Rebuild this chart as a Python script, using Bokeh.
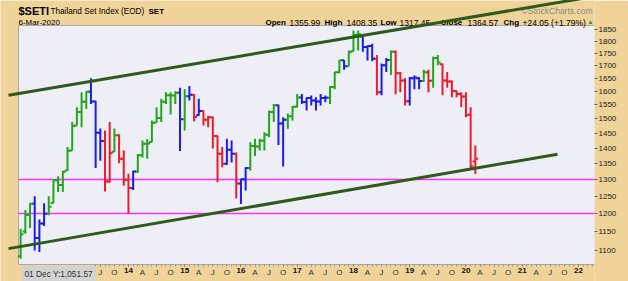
import math
import pandas as pd
from bokeh.plotting import figure
from bokeh.models import (Range1d, FixedTicker, NumeralTickFormatter, Label,
                          ColumnDataSource, LinearAxis)
from bokeh.embed import file_html
from bokeh.resources import INLINE

# ---------------- data (monthly OHLC, Thailand SET index) ----------------
months = [str(p) for p in pd.period_range("2012-02", "2020-03", freq="M")]

opens = [1085, 1150, 1196, 1228, 1133, 1172, 1199, 1230, 1298, 1283, 1328,
         1392, 1476, 1524, 1561, 1598, 1562, 1451, 1423, 1294, 1388, 1443, 1365,
         1299, 1274, 1325, 1376, 1414, 1420, 1487, 1502, 1561, 1585, 1584, 1594,
         1498, 1581, 1587, 1512, 1527, 1496, 1505, 1440, 1381, 1349, 1394, 1381,
         1288, 1301, 1336, 1407, 1405, 1424, 1444, 1524, 1548, 1483, 1496, 1509,
         1543, 1577, 1560, 1575, 1566, 1562, 1575, 1576, 1616, 1673, 1721, 1697,
         1758, 1827, 1820, 1776, 1780, 1727, 1596, 1701, 1722, 1756, 1669, 1641,
         1563, 1650, 1650, 1639, 1673, 1640, 1730, 1705, 1641, 1637, 1601, 1590,
         1580, 1514, 1356]
highs = [1158, 1210, 1230, 1250, 1183, 1229, 1250, 1300, 1310, 1327, 1403,
         1488, 1541, 1596, 1600, 1650, 1565, 1466, 1459, 1488, 1466, 1445, 1392,
         1318, 1327, 1380, 1425, 1430, 1494, 1541, 1572, 1596, 1596, 1600, 1613,
         1608, 1620, 1590, 1572, 1529, 1510, 1508, 1442, 1403, 1431, 1425, 1385,
         1302, 1338, 1419, 1431, 1431, 1453, 1529, 1553, 1550, 1505, 1518, 1545,
         1590, 1590, 1578, 1584, 1578, 1590, 1584, 1620, 1674, 1722, 1722, 1761,
         1846, 1846, 1825, 1782, 1789, 1742, 1708, 1730, 1761, 1761, 1674, 1650,
         1655, 1660, 1655, 1683, 1683, 1735, 1742, 1708, 1674, 1641, 1603, 1596,
         1596, 1541, 1408]
lows = [1079, 1144, 1160, 1100, 1096, 1165, 1195, 1229, 1262, 1262, 1327,
        1392, 1476, 1470, 1535, 1553, 1336, 1359, 1264, 1290, 1387, 1351, 1281,
        1200, 1268, 1320, 1369, 1365, 1419, 1486, 1488, 1553, 1515, 1553, 1390,
        1459, 1566, 1491, 1510, 1476, 1470, 1398, 1292, 1338, 1346, 1353, 1243,
        1227, 1267, 1327, 1374, 1392, 1392, 1436, 1488, 1410, 1340, 1465, 1494,
        1541, 1553, 1529, 1547, 1529, 1547, 1559, 1553, 1608, 1669, 1683, 1697,
        1756, 1761, 1756, 1720, 1717, 1585, 1585, 1674, 1662, 1589, 1596, 1547,
        1547, 1608, 1608, 1636, 1596, 1613, 1701, 1585, 1613, 1578, 1578, 1541,
        1505, 1336, 1317]
closes = [1143, 1196, 1228, 1133, 1172, 1199, 1219, 1298, 1283, 1324, 1391,
          1474, 1524, 1561, 1598, 1562, 1451, 1423, 1294, 1383, 1443, 1365, 1299,
          1274, 1325, 1376, 1414, 1415, 1485, 1502, 1561, 1585, 1584, 1594, 1498,
          1581, 1587, 1506, 1527, 1496, 1505, 1440, 1381, 1349, 1394, 1381, 1288,
          1301, 1336, 1407, 1405, 1424, 1444, 1524, 1548, 1483, 1496, 1509, 1543,
          1577, 1560, 1575, 1566, 1562, 1575, 1576, 1616, 1673, 1721, 1697, 1754,
          1827, 1830, 1776, 1780, 1727, 1596, 1701, 1722, 1756, 1669, 1641, 1563,
          1650, 1653, 1639, 1673, 1640, 1730, 1712, 1641, 1637, 1601, 1590, 1580,
          1514, 1341, 1365]
# impulse colouring: g = green, b = blue, r = red
impulse = list("gggbbbggggg" "ggggbbbrrgrr" "rbgggggggggb" "gbrbrrrrrbbr"
               "bbggggggbbgg" "gbbbbbbgggbg" "ggbbbrbbgrrr" "bbbgrggrrrrr" "rrr")

upper_trend_m = [-1.59, 123.42]
upper_trend_v = [1585.4, 2000.1]
lower_trend_m = [-1.59, 115.53]
lower_trend_v = [1104.9, 1379.9]
support_levels = [1300, 1200]

y_ticks = [1100, 1150, 1200, 1250, 1300, 1350, 1400, 1450, 1500, 1550,
           1600, 1650, 1700, 1750, 1800, 1850]
month_letters = {3: "A", 6: "J", 9: "O"}

# ---------------- geometry ----------------
W, H = 628, 281
FW = 594                     # frame width (right axis outside)
PLOT_BOTTOM = 264            # px of the bottom of the price pane
PXM = 4.6875                 # px per month
X0 = 15.45                   # px of Jan 2012
PXLN = 425.0                 # px per ln unit
Y1100 = 250.0                # px of 1100


def m_at(px):
    return (px - X0) / PXM


def v_at(py):
    return 1100 * math.exp((Y1100 - py) / PXLN)


TAN = "#EFD399"
LAV = "#EEEEF6"
GREEN_BAR = "#22A61E"
BLUE_BAR = "#1C1CEE"
RED_BAR = "#EE1C2A"
cmap = {"g": GREEN_BAR, "b": BLUE_BAR, "r": RED_BAR}
FONT = "Liberation Sans"

p = figure(width=W, height=H,
           x_range=Range1d(m_at(0), m_at(FW)),
           y_range=Range1d(v_at(H), v_at(0)),
           y_axis_type="log", y_axis_location="right",
           output_backend="svg", toolbar_location=None,
           min_border_left=0, min_border_top=0,
           min_border_right=W - FW, min_border_bottom=0,
           background_fill_color=TAN, border_fill_color=TAN,
           outline_line_color=None)
p.grid.visible = False

# plot area
p.quad(left=m_at(18), right=m_at(FW + 2), bottom=v_at(PLOT_BOTTOM), top=v_at(25),
       fill_color=LAV, line_color="#A8A8A8", line_width=1)

# support lines
p.segment(x0=[m_at(18)] * len(support_levels), x1=[m_at(FW)] * len(support_levels),
          y0=support_levels, y1=support_levels, line_color="#FF30FF", line_width=1.5)

# OHLC bars
idx = [(int(s[:4]) - 2012) * 12 + int(s[5:7]) - 1 for s in months]
src = ColumnDataSource(dict(
    x=idx, xl=[i - 0.6 for i in idx], xr=[i + 0.6 for i in idx],
    o=opens, h=highs, l=lows, c=closes, col=[cmap[k] for k in impulse]))
p.segment(x0="x", x1="x", y0="l", y1="h", color="col", line_width=2, source=src)
p.segment(x0="xl", x1="x", y0="o", y1="o", color="col", line_width=2, source=src)
p.segment(x0="x", x1="xr", y0="c", y1="c", color="col", line_width=2, source=src)

# trend channel
for xs, ys in ((upper_trend_m, upper_trend_v), (lower_trend_m, lower_trend_v)):
    r = p.line(xs, ys, line_color="#2E5A1C", line_width=3)
    r.level = "overlay"


def style_x(ax, bold):
    ax.fixed_location = v_at(PLOT_BOTTOM)
    ax.axis_line_color = None
    ax.major_tick_in = 0
    ax.major_tick_out = 2
    ax.minor_tick_in = 0
    ax.minor_tick_out = 2
    ax.major_tick_line_color = "#777777"
    ax.minor_tick_line_color = "#999999"
    ax.major_label_standoff = 1
    ax.major_label_text_font = FONT
    ax.major_label_text_font_size = "8px"
    ax.major_label_text_font_style = "bold" if bold else "normal"
    ax.major_label_text_color = "#111111" if bold else "#333333"


# x axis: month letters (normal) + years (bold), both at the bottom of the price pane
quarter_ticks = [t for t in range(18, 121, 3) if t % 12 != 0]
year_ticks = [t for t in range(18, 121, 3) if t % 12 == 0]
xa = p.xaxis[0]
style_x(xa, False)
xa.ticker = FixedTicker(ticks=quarter_ticks, minor_ticks=list(range(17, 124)))
xa.major_label_overrides = {t: month_letters[t % 12] for t in quarter_ticks}

xy = LinearAxis()
style_x(xy, True)
xy.ticker = FixedTicker(ticks=year_ticks, minor_ticks=[])
xy.major_label_overrides = {t: f"{(2012 + t // 12) % 100:02d}" for t in year_ticks}
p.add_layout(xy, "below")

# y axis
ya = p.yaxis[0]
ya.ticker = FixedTicker(ticks=y_ticks, minor_ticks=[])
ya.formatter = NumeralTickFormatter(format="0")
ya.axis_line_color = None
ya.major_tick_in = 0
ya.major_tick_out = 3
ya.major_tick_line_color = "#666666"
ya.major_label_standoff = 1
ya.major_label_text_font = FONT
ya.major_label_text_font_size = "8px"
ya.major_label_text_color = "#222222"


def txt(s, x, y_canvas, size, bold=False, color="#000000", **kw):
    lab = Label(x=x, y=H - y_canvas, x_units="screen", y_units="screen",
                text=s, text_font=FONT, text_font_size=f"{size}px",
                text_font_style="bold" if bold else "normal",
                text_color=color, text_baseline="alphabetic", text_align="left", **kw)
    p.add_layout(lab)


txt("$SETI", 18, 10.5, 11, bold=True)
txt("Thailand Set Index (EOD)", 50, 10.5, 8.2)
txt("SET", 148, 10.5, 8, bold=True)
txt("\u00a9StockCharts.com", 521, 10.5, 8.5, color="#8A8A8A")
txt("6-Mar-2020", 18, 22, 8)
for s, x, b in (("Open", 265, True), ("1355.99", 289, False),
                ("High", 324, True), ("1408.35", 346, False),
                ("Low", 380, True), ("1317.45", 399, False),
                ("Close", 440, True), ("1364.57", 467, False),
                ("Chg", 503, True), ("+24.05 (+1.79%)", 522, False)):
    txt(s, x, 22, 8.5 if not b else 8, bold=b)
txt("\u25b2", 587, 21, 6, color="#1E9E1E")
txt("01 Dec Y:1,051.57", 21, 273.5, 8.3, color="#333333",
    background_fill_color="#D2D2D2", padding=3)

open("out.html", "w").write(file_html(p, INLINE))
